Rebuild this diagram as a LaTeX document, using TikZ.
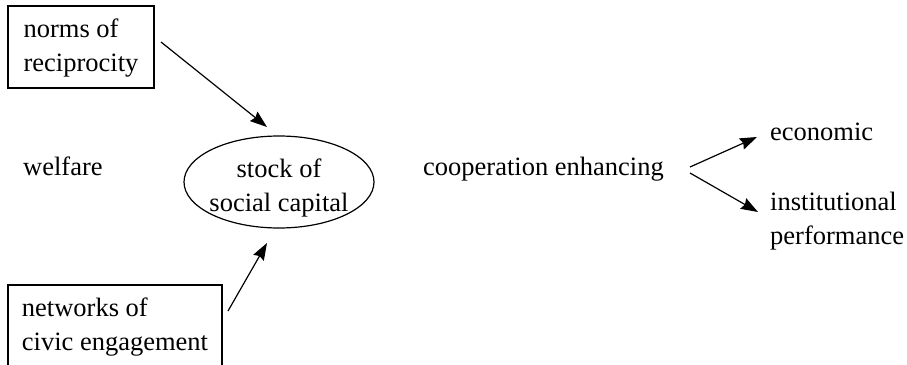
\documentclass[tikz,border=0pt]{standalone}
\usepackage{fontspec}
\setmainfont{Liberation Serif}
\usetikzlibrary{shapes.geometric,arrows.meta}
% struts that fix the distance from the first baseline to the top
% and from the last baseline to the bottom of a node's text block
\newcommand\upStrut[1]{\rule{0pt}{#1}}
\newcommand\downStrut[1]{\rule[-#1]{0pt}{#1}}
\begin{document}
\begin{tikzpicture}[x=1pt,y=-1pt,
  every node/.style={font=\fontsize{26.5}{34}\selectfont, inner sep=0pt},
  label/.style={anchor=base west},
  framebox/.style={draw, line width=1.4pt, align=left, inner sep=0pt},
  capital/.style={draw, line width=1.2pt, ellipse, align=center,
                  inner xsep=-25pt, inner ysep=-15pt,
                  minimum width=190pt, minimum height=92pt},
  arr/.style={line width=1.2pt, -{Stealth[length=17pt,width=12pt,inset=2pt]}}]
  \useasboundingbox (0,0) rectangle (907,364);
  \clip (0,0) rectangle (907,364);

  % input boxes
  \node[framebox, minimum width=146pt] (norms) at (81,47)
    {\upStrut{31pt}norms of\\reciprocity\downStrut{17pt}};
  \node[framebox, minimum width=214pt] (networks) at (115,326)
    {\upStrut{31pt}networks of\\civic engagement\downStrut{17pt}};

  % central ellipse
  \node[capital] (stock) at (279,182)
    {\upStrut{31pt}stock of\\social capital\downStrut{7pt}};

  % free labels
  \node[label] (welfare) at (23,175) {welfare};
  \node[label] (coop) at (423,175) {cooperation enhancing};
  \node[label] (econ) at (770,140) {economic};
  \node[anchor=north west, align=left] (inst) at (770,190)
    {\upStrut{20pt}institutional\\performance};

  % connector end points
  \coordinate (normsOut) at (161,42);
  \coordinate (stockTop) at (267,127);
  \coordinate (netOut) at (228,311);
  \coordinate (stockBottom) at (267,243);
  \coordinate (coopUp) at (690,167);
  \coordinate (coopDown) at (690,173);
  \coordinate (econIn) at (757,137);
  \coordinate (instIn) at (758,212);

  % connectors
  \draw[arr] (normsOut) -- (stockTop);
  \draw[arr] (netOut) -- (stockBottom);
  \draw[arr] (coopUp) -- (econIn);
  \draw[arr] (coopDown) -- (instIn);
\end{tikzpicture}
\end{document}
